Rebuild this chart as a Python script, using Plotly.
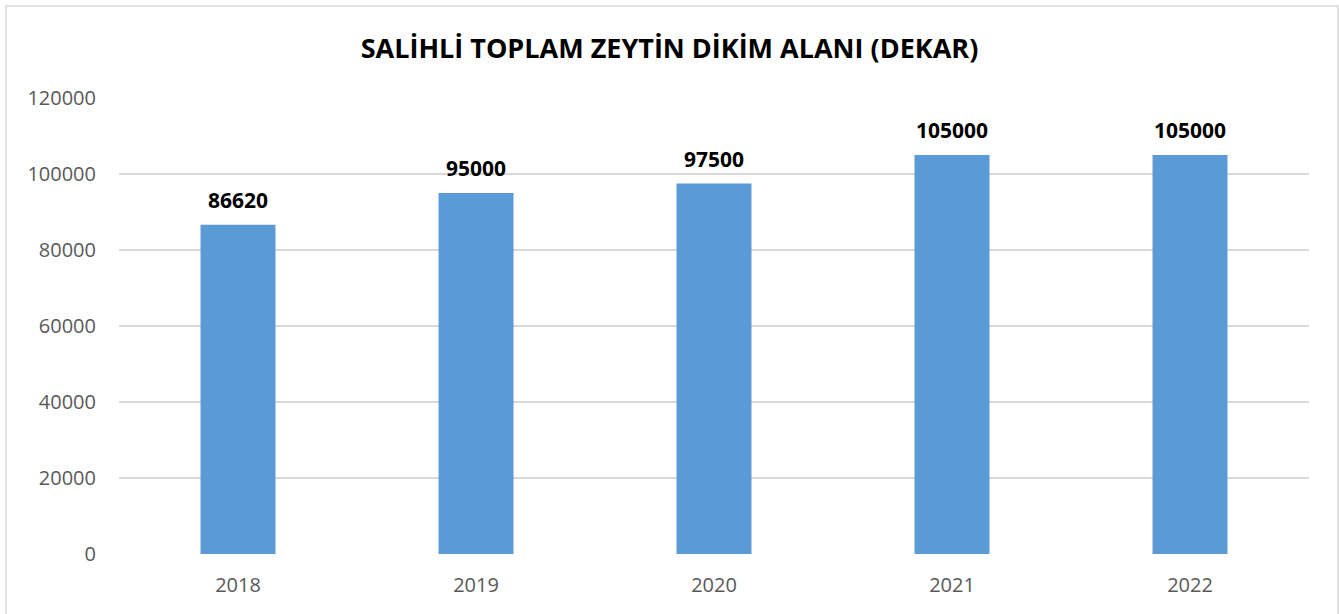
import plotly.graph_objects as go

years = ["2018", "2019", "2020", "2021", "2022"]
values = [86620, 95000, 97500, 105000, 105000]
y_ticks = [0, 20000, 40000, 60000, 80000, 100000, 120000]

W, H = 1339, 614
ml, mr, mt, mb = 119, 30, 98, 60
pw = W - ml - mr
ph = H - mt - mb

fig = go.Figure(go.Bar(
    x=years, y=values,
    marker=dict(color="#5B9BD5", line=dict(width=0)),
    showlegend=False,
))

# category axis: annotation x given as category index
for i, v in enumerate(values):
    fig.add_annotation(x=i, y=v, xref="x", yref="y", text=str(v), showarrow=False,
                       yanchor="bottom", xanchor="center", yshift=9,
                       font=dict(family="Open Sans", size=21, color="#000000", weight="bold"))

fig.update_layout(
    width=W, height=H,
    margin=dict(l=ml, r=mr, t=mt, b=mb),
    paper_bgcolor="white", plot_bgcolor="white",
    title=dict(text="<b>SALİHLİ TOPLAM ZEYTİN DİKİM ALANI (DEKAR)</b>",
               x=0.5, xanchor="center", y=1 - 49 / H, yanchor="middle",
               font=dict(family="Open Sans", size=27, color="#000000")),
    bargap=0.685,
    showlegend=False,
    xaxis=dict(type="category", categoryorder="array", categoryarray=years,
               range=[-0.5, len(years) - 0.5],
               tickfont=dict(family="Open Sans", size=20, color="#595959"),
               showgrid=False, zeroline=False, showline=False, ticks="",
               ticklabelstandoff=17),
    yaxis=dict(range=[0, 120000], tickvals=y_ticks, ticktext=[str(t) for t in y_ticks],
               tickfont=dict(family="Open Sans", size=20, color="#595959"),
               showgrid=True, gridcolor="#D9D9D9", gridwidth=1.5,
               zeroline=False, showline=False, ticks="", ticklabelstandoff=22),
    shapes=[dict(type="rect", xref="paper", yref="paper",
                 x0=(6 - ml) / pw, x1=(W - 1 - ml) / pw,
                 y0=(mb - H - 10) / ph, y1=(H - mb - 6) / ph,
                 line=dict(color="#D9D9D9", width=1.5), fillcolor="rgba(0,0,0,0)",
                 layer="below")],
)

fig.write_html("out.html", config={"displayModeBar": False},
               post_script="document.body.style.margin='0';document.body.style.padding='0';")
